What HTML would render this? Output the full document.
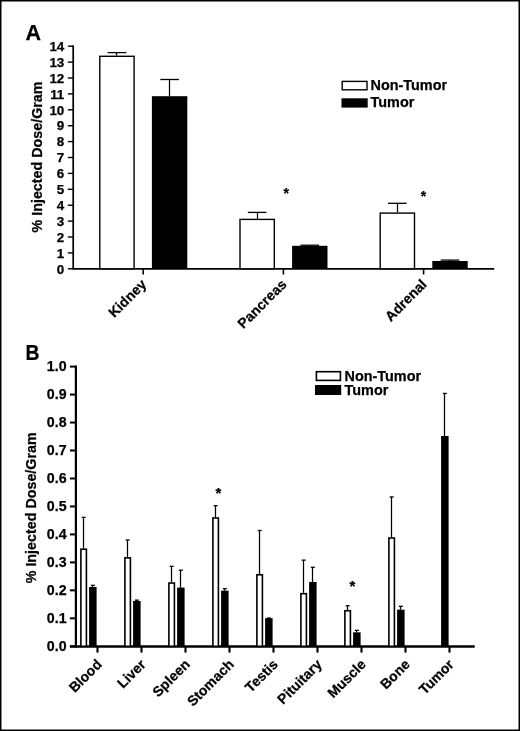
<!DOCTYPE html>
<html><head><meta charset="utf-8"><title>Biodistribution</title>
<style>
html,body{margin:0;padding:0;background:#fff;}
svg{display:block;}
text{font-family:'Liberation Sans', Arial, Helvetica, sans-serif;font-weight:bold;fill:#000;stroke:#000;stroke-width:0.25px;}
.tl{font-size:14.2px;text-anchor:end;}
.tla{font-size:13.4px;}
.xl{font-size:14px;text-anchor:end;}
.lg{font-size:14.4px;}
.yl{font-size:14.3px;text-anchor:middle;}
.pl{font-size:21.5px;}
.ast{font-size:15px;text-anchor:middle;}
.asta{font-size:14px;}
</style></head><body>
<svg width="520" height="731" viewBox="0 0 520 731">
<rect width="520" height="731" fill="#fff"/>
<rect x="0" y="0" width="520" height="731" fill="none" stroke="#000" stroke-width="3"/>
<line x1="73.2" y1="45.4" x2="73.2" y2="269.6" stroke="#000" stroke-width="1.7"/>
<line x1="67.8" y1="268.8" x2="73.2" y2="268.8" stroke="#000" stroke-width="1.4"/>
<text x="64.3" y="273.5" class="tl tla">0</text>
<line x1="67.8" y1="252.9" x2="73.2" y2="252.9" stroke="#000" stroke-width="1.4"/>
<text x="64.3" y="257.6" class="tl tla">1</text>
<line x1="67.8" y1="237" x2="73.2" y2="237" stroke="#000" stroke-width="1.4"/>
<text x="64.3" y="241.7" class="tl tla">2</text>
<line x1="67.8" y1="221.1" x2="73.2" y2="221.1" stroke="#000" stroke-width="1.4"/>
<text x="64.3" y="225.8" class="tl tla">3</text>
<line x1="67.8" y1="205.2" x2="73.2" y2="205.2" stroke="#000" stroke-width="1.4"/>
<text x="64.3" y="209.9" class="tl tla">4</text>
<line x1="67.8" y1="189.3" x2="73.2" y2="189.3" stroke="#000" stroke-width="1.4"/>
<text x="64.3" y="194" class="tl tla">5</text>
<line x1="67.8" y1="173.4" x2="73.2" y2="173.4" stroke="#000" stroke-width="1.4"/>
<text x="64.3" y="178.1" class="tl tla">6</text>
<line x1="67.8" y1="157.5" x2="73.2" y2="157.5" stroke="#000" stroke-width="1.4"/>
<text x="64.3" y="162.2" class="tl tla">7</text>
<line x1="67.8" y1="141.6" x2="73.2" y2="141.6" stroke="#000" stroke-width="1.4"/>
<text x="64.3" y="146.3" class="tl tla">8</text>
<line x1="67.8" y1="125.7" x2="73.2" y2="125.7" stroke="#000" stroke-width="1.4"/>
<text x="64.3" y="130.4" class="tl tla">9</text>
<line x1="67.8" y1="109.8" x2="73.2" y2="109.8" stroke="#000" stroke-width="1.4"/>
<text x="64.3" y="114.5" class="tl tla">10</text>
<line x1="67.8" y1="93.9" x2="73.2" y2="93.9" stroke="#000" stroke-width="1.4"/>
<text x="64.3" y="98.6" class="tl tla">11</text>
<line x1="67.8" y1="78" x2="73.2" y2="78" stroke="#000" stroke-width="1.4"/>
<text x="64.3" y="82.7" class="tl tla">12</text>
<line x1="67.8" y1="62.1" x2="73.2" y2="62.1" stroke="#000" stroke-width="1.4"/>
<text x="64.3" y="66.8" class="tl tla">13</text>
<line x1="67.8" y1="46.2" x2="73.2" y2="46.2" stroke="#000" stroke-width="1.4"/>
<text x="64.3" y="50.9" class="tl tla">14</text>
<line x1="73.2" y1="268.8" x2="494.2" y2="268.8" stroke="#000" stroke-width="1.7"/>
<line x1="143.2" y1="268.8" x2="143.2" y2="274.5" stroke="#000" stroke-width="1.6"/>
<line x1="116.5" y1="55.6" x2="116.5" y2="52.6" stroke="#000" stroke-width="1.25"/>
<line x1="107.65" y1="52.6" x2="126.25" y2="52.6" stroke="#000" stroke-width="1.3"/>
<rect x="99.8" y="56.3" width="34.3" height="212.5" fill="#fff" stroke="#000" stroke-width="1.4"/>
<line x1="169.5" y1="96.2" x2="169.5" y2="79.5" stroke="#000" stroke-width="1.25"/>
<line x1="160.3" y1="79.5" x2="178.9" y2="79.5" stroke="#000" stroke-width="1.3"/>
<rect x="151.9" y="96.2" width="35.4" height="172.6" fill="#000"/>
<text class="xl" transform="translate(147.2,285.3) rotate(-45)">Kidney</text>
<line x1="283.4" y1="268.8" x2="283.4" y2="274.5" stroke="#000" stroke-width="1.6"/>
<line x1="257.5" y1="218.7" x2="257.5" y2="212.4" stroke="#000" stroke-width="1.25"/>
<line x1="247.85" y1="212.4" x2="266.45" y2="212.4" stroke="#000" stroke-width="1.3"/>
<rect x="240" y="219.4" width="34.3" height="49.4" fill="#fff" stroke="#000" stroke-width="1.4"/>
<line x1="309.5" y1="245.8" x2="309.5" y2="245.2" stroke="#000" stroke-width="1.25"/>
<line x1="300.5" y1="245.2" x2="319.1" y2="245.2" stroke="#000" stroke-width="1.3"/>
<rect x="292.1" y="245.8" width="35.4" height="23" fill="#000"/>
<text class="xl" transform="translate(287.4,285.3) rotate(-45)">Pancreas</text>
<line x1="423.6" y1="268.8" x2="423.6" y2="274.5" stroke="#000" stroke-width="1.6"/>
<line x1="397.5" y1="212.4" x2="397.5" y2="203.3" stroke="#000" stroke-width="1.25"/>
<line x1="388.05" y1="203.3" x2="406.65" y2="203.3" stroke="#000" stroke-width="1.3"/>
<rect x="380.2" y="213.1" width="34.3" height="55.7" fill="#fff" stroke="#000" stroke-width="1.4"/>
<line x1="449.5" y1="261" x2="449.5" y2="260.1" stroke="#000" stroke-width="1.25"/>
<line x1="440.7" y1="260.1" x2="459.3" y2="260.1" stroke="#000" stroke-width="1.3"/>
<rect x="432.3" y="261" width="35.4" height="7.8" fill="#000"/>
<text class="xl" transform="translate(427.6,285.3) rotate(-45)">Adrenal</text>
<text class="ast asta" x="286.3" y="198.2">*</text>
<text class="ast asta" x="423.4" y="200.5">*</text>
<rect x="342.2" y="81.4" width="24.8" height="8.4" fill="#fff" stroke="#000" stroke-width="1.4"/>
<rect x="341.5" y="98.3" width="26.2" height="9.3" fill="#000"/>
<text class="lg" x="370.6" y="90.2">Non-Tumor</text>
<text class="lg" x="370.6" y="107.3">Tumor</text>
<text class="yl" transform="translate(42.4,157) rotate(-90)">% Injected Dose/Gram</text>
<text class="pl" x="25.5" y="40.2">A</text>
<line x1="75.9" y1="365.5" x2="75.9" y2="647.4" stroke="#000" stroke-width="2.2"/>
<line x1="69.9" y1="646.3" x2="75.9" y2="646.3" stroke="#000" stroke-width="2.0"/>
<text x="66.6" y="650.5" class="tl">0.0</text>
<line x1="69.9" y1="618.33" x2="75.9" y2="618.33" stroke="#000" stroke-width="2.0"/>
<text x="66.6" y="622.53" class="tl">0.1</text>
<line x1="69.9" y1="590.36" x2="75.9" y2="590.36" stroke="#000" stroke-width="2.0"/>
<text x="66.6" y="594.56" class="tl">0.2</text>
<line x1="69.9" y1="562.39" x2="75.9" y2="562.39" stroke="#000" stroke-width="2.0"/>
<text x="66.6" y="566.59" class="tl">0.3</text>
<line x1="69.9" y1="534.42" x2="75.9" y2="534.42" stroke="#000" stroke-width="2.0"/>
<text x="66.6" y="538.62" class="tl">0.4</text>
<line x1="69.9" y1="506.45" x2="75.9" y2="506.45" stroke="#000" stroke-width="2.0"/>
<text x="66.6" y="510.65" class="tl">0.5</text>
<line x1="69.9" y1="478.48" x2="75.9" y2="478.48" stroke="#000" stroke-width="2.0"/>
<text x="66.6" y="482.68" class="tl">0.6</text>
<line x1="69.9" y1="450.51" x2="75.9" y2="450.51" stroke="#000" stroke-width="2.0"/>
<text x="66.6" y="454.71" class="tl">0.7</text>
<line x1="69.9" y1="422.54" x2="75.9" y2="422.54" stroke="#000" stroke-width="2.0"/>
<text x="66.6" y="426.74" class="tl">0.8</text>
<line x1="69.9" y1="394.57" x2="75.9" y2="394.57" stroke="#000" stroke-width="2.0"/>
<text x="66.6" y="398.77" class="tl">0.9</text>
<line x1="69.9" y1="366.6" x2="75.9" y2="366.6" stroke="#000" stroke-width="2.0"/>
<text x="66.6" y="370.8" class="tl">1.0</text>
<line x1="69.9" y1="646.5" x2="474.7" y2="646.5" stroke="#000" stroke-width="2.4"/>
<line x1="97.5" y1="646.3" x2="97.5" y2="652.6" stroke="#000" stroke-width="2.1"/>
<line x1="83.5" y1="548.4" x2="83.5" y2="517.36" stroke="#000" stroke-width="1.25"/>
<line x1="81.65" y1="517.36" x2="85.65" y2="517.36" stroke="#000" stroke-width="1.3"/>
<rect x="80.9" y="549.2" width="5.5" height="97.09" fill="#fff" stroke="#000" stroke-width="1.6"/>
<line x1="92.5" y1="587" x2="92.5" y2="585.33" stroke="#000" stroke-width="1.25"/>
<line x1="90.85" y1="585.33" x2="94.85" y2="585.33" stroke="#000" stroke-width="1.3"/>
<rect x="89.1" y="587" width="7.5" height="59.3" fill="#000"/>
<text class="xl" transform="translate(102.7,665.3) rotate(-45)">Blood</text>
<line x1="141.5" y1="646.3" x2="141.5" y2="652.6" stroke="#000" stroke-width="2.1"/>
<line x1="127.5" y1="557.08" x2="127.5" y2="540.01" stroke="#000" stroke-width="1.25"/>
<line x1="125.65" y1="540.01" x2="129.65" y2="540.01" stroke="#000" stroke-width="1.3"/>
<rect x="124.9" y="557.88" width="5.5" height="88.42" fill="#fff" stroke="#000" stroke-width="1.6"/>
<line x1="136.5" y1="600.99" x2="136.5" y2="600.15" stroke="#000" stroke-width="1.25"/>
<line x1="134.85" y1="600.15" x2="138.85" y2="600.15" stroke="#000" stroke-width="1.3"/>
<rect x="133.1" y="600.99" width="7.5" height="45.31" fill="#000"/>
<text class="xl" transform="translate(146.7,665.3) rotate(-45)">Liver</text>
<line x1="185.5" y1="646.3" x2="185.5" y2="652.6" stroke="#000" stroke-width="2.1"/>
<line x1="171.5" y1="582.25" x2="171.5" y2="566.31" stroke="#000" stroke-width="1.25"/>
<line x1="169.65" y1="566.31" x2="173.65" y2="566.31" stroke="#000" stroke-width="1.3"/>
<rect x="168.9" y="583.05" width="5.5" height="63.25" fill="#fff" stroke="#000" stroke-width="1.6"/>
<line x1="180.5" y1="587.56" x2="180.5" y2="570.22" stroke="#000" stroke-width="1.25"/>
<line x1="178.85" y1="570.22" x2="182.85" y2="570.22" stroke="#000" stroke-width="1.3"/>
<rect x="177.1" y="587.56" width="7.5" height="58.74" fill="#000"/>
<text class="xl" transform="translate(190.7,665.3) rotate(-45)">Spleen</text>
<line x1="229.5" y1="646.3" x2="229.5" y2="652.6" stroke="#000" stroke-width="2.1"/>
<line x1="215.5" y1="517.19" x2="215.5" y2="505.75" stroke="#000" stroke-width="1.25"/>
<line x1="213.65" y1="505.75" x2="217.65" y2="505.75" stroke="#000" stroke-width="1.3"/>
<rect x="212.9" y="517.99" width="5.5" height="128.31" fill="#fff" stroke="#000" stroke-width="1.6"/>
<line x1="224.5" y1="590.64" x2="224.5" y2="588.68" stroke="#000" stroke-width="1.25"/>
<line x1="222.85" y1="588.68" x2="226.85" y2="588.68" stroke="#000" stroke-width="1.3"/>
<rect x="221.1" y="590.64" width="7.5" height="55.66" fill="#000"/>
<text class="xl" transform="translate(234.7,665.3) rotate(-45)">Stomach</text>
<line x1="273.5" y1="646.3" x2="273.5" y2="652.6" stroke="#000" stroke-width="2.1"/>
<line x1="259.5" y1="573.97" x2="259.5" y2="530.5" stroke="#000" stroke-width="1.25"/>
<line x1="257.65" y1="530.5" x2="261.65" y2="530.5" stroke="#000" stroke-width="1.3"/>
<rect x="256.9" y="574.77" width="5.5" height="71.53" fill="#fff" stroke="#000" stroke-width="1.6"/>
<line x1="268.5" y1="618.19" x2="268.5" y2="618.05" stroke="#000" stroke-width="1.25"/>
<line x1="266.85" y1="618.05" x2="270.85" y2="618.05" stroke="#000" stroke-width="1.3"/>
<rect x="265.1" y="618.19" width="7.5" height="28.11" fill="#000"/>
<text class="xl" transform="translate(278.7,665.3) rotate(-45)">Testis</text>
<line x1="317.5" y1="646.3" x2="317.5" y2="652.6" stroke="#000" stroke-width="2.1"/>
<line x1="303.5" y1="592.88" x2="303.5" y2="560.15" stroke="#000" stroke-width="1.25"/>
<line x1="301.65" y1="560.15" x2="305.65" y2="560.15" stroke="#000" stroke-width="1.3"/>
<rect x="300.9" y="593.68" width="5.5" height="52.62" fill="#fff" stroke="#000" stroke-width="1.6"/>
<line x1="312.5" y1="581.97" x2="312.5" y2="567.28" stroke="#000" stroke-width="1.25"/>
<line x1="310.85" y1="567.28" x2="314.85" y2="567.28" stroke="#000" stroke-width="1.3"/>
<rect x="309.1" y="581.97" width="7.5" height="64.33" fill="#000"/>
<text class="xl" transform="translate(322.7,665.3) rotate(-45)">Pituitary</text>
<line x1="361.5" y1="646.3" x2="361.5" y2="652.6" stroke="#000" stroke-width="2.1"/>
<line x1="347.5" y1="609.94" x2="347.5" y2="605.74" stroke="#000" stroke-width="1.25"/>
<line x1="345.65" y1="605.74" x2="349.65" y2="605.74" stroke="#000" stroke-width="1.3"/>
<rect x="344.9" y="610.74" width="5.5" height="35.56" fill="#fff" stroke="#000" stroke-width="1.6"/>
<line x1="356.5" y1="632.31" x2="356.5" y2="630.36" stroke="#000" stroke-width="1.25"/>
<line x1="354.85" y1="630.36" x2="358.85" y2="630.36" stroke="#000" stroke-width="1.3"/>
<rect x="353.1" y="632.31" width="7.5" height="13.99" fill="#000"/>
<text class="xl" transform="translate(366.7,665.3) rotate(-45)">Muscle</text>
<line x1="405.5" y1="646.3" x2="405.5" y2="652.6" stroke="#000" stroke-width="2.1"/>
<line x1="391.5" y1="537.22" x2="391.5" y2="496.94" stroke="#000" stroke-width="1.25"/>
<line x1="389.65" y1="496.94" x2="393.65" y2="496.94" stroke="#000" stroke-width="1.3"/>
<rect x="388.9" y="538.02" width="5.5" height="108.28" fill="#fff" stroke="#000" stroke-width="1.6"/>
<line x1="400.5" y1="609.66" x2="400.5" y2="606.3" stroke="#000" stroke-width="1.25"/>
<line x1="398.85" y1="606.3" x2="402.85" y2="606.3" stroke="#000" stroke-width="1.3"/>
<rect x="397.1" y="609.66" width="7.5" height="36.64" fill="#000"/>
<text class="xl" transform="translate(410.7,665.3) rotate(-45)">Bone</text>
<line x1="449.5" y1="646.3" x2="449.5" y2="652.6" stroke="#000" stroke-width="2.1"/>
<line x1="444.5" y1="435.97" x2="444.5" y2="393.45" stroke="#000" stroke-width="1.25"/>
<line x1="442.85" y1="393.45" x2="446.85" y2="393.45" stroke="#000" stroke-width="1.3"/>
<rect x="441.1" y="435.97" width="7.5" height="210.33" fill="#000"/>
<text class="xl" transform="translate(454.7,665.3) rotate(-45)">Tumor</text>
<text class="ast" x="218.5" y="498.4">*</text>
<text class="ast" x="352.4" y="590.5">*</text>
<rect x="316.4" y="371.7" width="24" height="8.7" fill="#fff" stroke="#000" stroke-width="1.6"/>
<rect x="315" y="385" width="26.2" height="10" fill="#000"/>
<text class="lg" x="344.6" y="381.2">Non-Tumor</text>
<text class="lg" x="344.6" y="394.8">Tumor</text>
<text class="yl" transform="translate(36.2,507.8) rotate(-90)">% Injected Dose/Gram</text>
<text class="pl" transform="translate(25.5,360.3) scale(0.9,1)">B</text>
</svg>
</body></html>
